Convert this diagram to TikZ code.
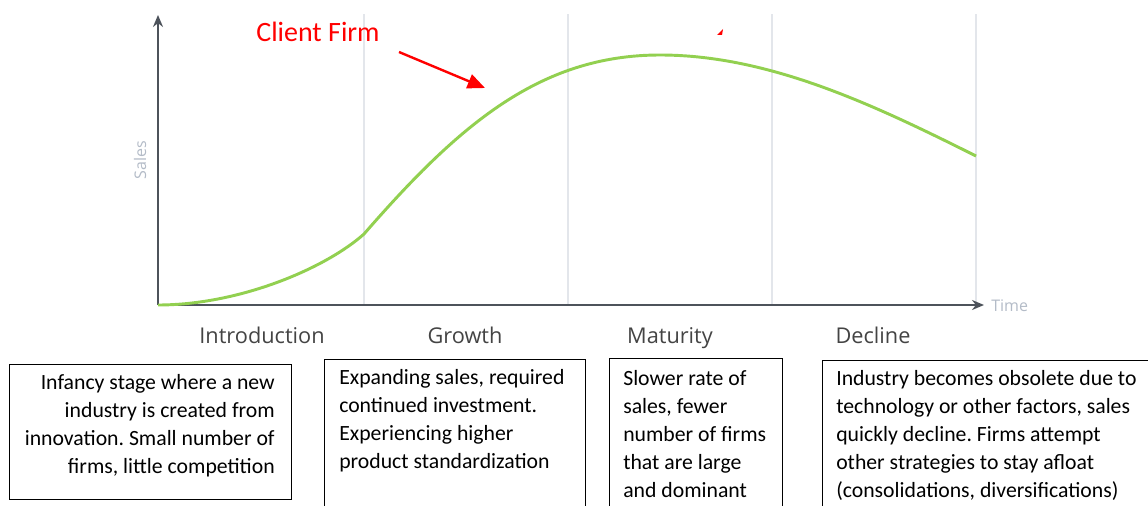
\documentclass[tikz,border=0pt]{standalone}
\usepackage{fontspec}
\setmainfont{Carlito}
\newfontfamily\chartfont{Open Sans}
\usetikzlibrary{arrows.meta, positioning}
\frenchspacing
\definecolor{axisgray}{HTML}{4D535B}
\definecolor{gridgray}{HTML}{E3E6EB}
\definecolor{labelgray}{HTML}{444444}
\definecolor{faintgray}{HTML}{B3BBC7}
\definecolor{curvegreen}{HTML}{92D050}
\tikzset{
axis line/.style = { draw = axisgray, line width = 1.5pt, -{Stealth[length = 9pt, width = 7.5pt]} },
grid line/.style = { draw = gridgray, line width = 0.8pt },
sales curve/.style = { draw = curvegreen, line width = 2.2pt },
client arrow/.style = { draw = red, line width = 1.8pt, -{Triangle[length = 13pt, width = 11pt]} },
stage label/.style = { font = \chartfont\fontsize{16.3}{19}\selectfont, text = labelgray, inner sep = 0pt },
axis label/.style = { font = \chartfont\fontsize{12}{14}\selectfont, text = faintgray, inner sep = 0pt },
stage box/.style = { rectangle, draw = black, line width = 0.6pt, anchor = north west, inner sep = 0pt },
box text/.style = { font = \fontsize{16.3}{21}\selectfont, inner sep = 0pt },
}

\begin{document}
\begin{tikzpicture}[x = 0.75pt, y = -0.75pt]
    \useasboundingbox (0, 0) rectangle (1148, 506);
    \clip (0, 0) rectangle (1148, 506);
    % grid and axes
    \foreach \gx in {364, 568, 772, 976}
        \draw[grid line] (\gx, 14) -- (\gx, 305);
    \coordinate (origin) at (158, 305);
    \coordinate (ytop) at (158, 15);
    \coordinate (xend) at (984, 305);
    \draw[axis line] (origin) -- (ytop);
    \draw[axis line] (origin) -- (xend);
    \node[axis label, rotate = 90] (saleslabel) at (140, 160) {Sales};
    \node[axis label, anchor = west] (timelabel) at (991, 306) {Time};
    % life cycle curve
    \coordinate (bend) at (364, 234);
    \coordinate (peak) at (660, 55);
    \coordinate (curveend) at (976, 156);
    \draw[sales curve] (origin) .. controls (240, 305) and (326, 268) .. (bend)
        .. controls (459, 124.75) and (540, 55) .. (peak)
        .. controls (770, 55) and (876, 106) .. (curveend);
    % client firm marker
    \node[text = red, inner sep = 0pt, font = \fontsize{21}{25}\selectfont] (clientlabel) at (318, 32) {Client Firm};
    \coordinate (arrowstart) at (399, 52);
    \coordinate (clienttip) at (485, 88);
    \draw[client arrow] (arrowstart) -- (clienttip);
    \fill[red] (717, 35) -- (723, 29) -- (722, 35) -- cycle;
    % stage names
    \node[stage label, anchor = base] (intro) at (262, 343) {Introduction};
    \node[stage label, anchor = base] (growth) at (465, 343) {Growth};
    \node[stage label, anchor = base] (maturity) at (670, 343) {Maturity};
    \node[stage label, anchor = base] (decline) at (873, 343) {Decline};
    % stage descriptions
    \node[stage box, minimum width = 211.5pt, minimum height = 101.25pt] (introbox) at (9, 364) {};
    \node[stage box, minimum width = 195.75pt, minimum height = 121pt] (growthbox) at (324, 359) {};
    \node[stage box, minimum width = 129.75pt, minimum height = 122pt] (maturitybox) at (609, 358) {};
    \node[stage box, minimum width = 254pt, minimum height = 121pt] (declinebox) at (822, 360) {};
    \node[box text, align = right, anchor = north east] (introtext) at (275, 374) {Infancy stage where a new\\industry is created from\\innovation. Small number of\\firms, little competition};
    \node[box text, align = left, anchor = north west] (growthtext) at (339, 369) {Expanding sales, required\\continued investment.\\Experiencing higher\\product standardization};
    \node[box text, align = left, anchor = north west] (maturitytext) at (623, 370) {Slower rate of\\sales, fewer\\number of firms\\that are large\\and dominant};
    \node[box text, align = left, anchor = north west] (declinetext) at (836, 370) {Industry becomes obsolete due to\\technology or other factors, sales\\quickly decline. Firms attempt\\other strategies to stay afloat\\(consolidations, diversifications)};
\end{tikzpicture}
\end{document}
